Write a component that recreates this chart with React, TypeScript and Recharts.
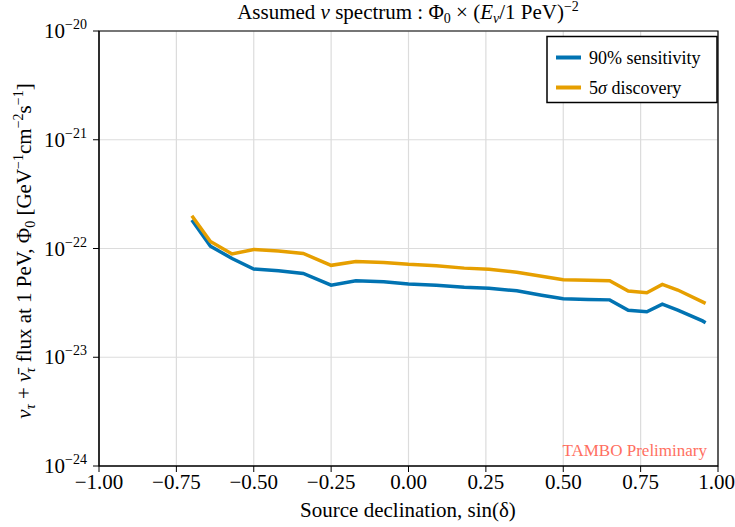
import React from 'react';
import {
  LineChart,
  Line,
  XAxis,
  YAxis,
  CartesianGrid,
  ReferenceArea
} from 'recharts';

const sinDec = [-0.70, -0.64, -0.57, -0.50, -0.42, -0.34, -0.25, -0.17, -0.08, 0.0, 0.09, 0.18, 0.26, 0.35, 0.43, 0.50, 0.58, 0.65, 0.71, 0.77, 0.82, 0.87, 0.95, 0.96];
const sensitivity = [1.83e-22, 1.05e-22, 8.1e-23, 6.47e-23, 6.25e-23, 5.9e-23, 4.6e-23, 5.05e-23, 4.95e-23, 4.72e-23, 4.6e-23, 4.4e-23, 4.32e-23, 4.08e-23, 3.72e-23, 3.45e-23, 3.4e-23, 3.37e-23, 2.71e-23, 2.62e-23, 3.08e-23, 2.71e-23, 2.16e-23, 2.08e-23];
const discovery = [2.0e-22, 1.16e-22, 8.9e-23, 9.8e-23, 9.5e-23, 9.0e-23, 7.0e-23, 7.6e-23, 7.45e-23, 7.15e-23, 6.95e-23, 6.6e-23, 6.45e-23, 6.05e-23, 5.55e-23, 5.15e-23, 5.1e-23, 5.05e-23, 4.06e-23, 3.92e-23, 4.68e-23, 4.15e-23, 3.23e-23, 3.13e-23];

const xTicks = [-1, -0.75, -0.5, -0.25, 0, 0.25, 0.5, 0.75, 1];
const yTicks = [1e-24, 1e-23, 1e-22, 1e-21, 1e-20];
const seriesNames = ['90% sensitivity', '5σ discovery'];

const BLUE = '#0173B2';
const ORANGE = '#E69F00';
const FONT = 'Liberation Serif, DejaVu Serif, serif';

const data = sinDec.map((x, i) => ({ x, sens: sensitivity[i], disc: discovery[i] }));

const fmtX = (v: number) => (v < 0 ? '\u2212' : '') + Math.abs(v).toFixed(2);

const YTick = (props: any) => {
  const { x, y, payload } = props;
  const exp = Math.round(Math.log10(payload.value));
  return (
    <text x={x - 4} y={y + 7} textAnchor="end" fontFamily={FONT} fontSize={21} fill="#000">
      10
      <tspan dy={-9} fontSize={14}>{'\u2212' + Math.abs(exp)}</tspan>
    </text>
  );
};

export default function App() {
  return (
    <div style={{ position: 'absolute', left: 0, top: 0, width: 735, height: 527, background: '#fff' }}>
      <LineChart
        width={735}
        height={527}
        data={data}
        margin={{ top: 31, right: 17, bottom: 30, left: 39 }}
      >
        <CartesianGrid stroke="#dcdcdc" strokeWidth={1.2} />
        <XAxis
          dataKey="x"
          type="number"
          domain={[-1, 1]}
          ticks={xTicks}
          tickFormatter={fmtX}
          height={31}
          tickSize={6}
          axisLine={{ stroke: '#000' }}
          tickLine={{ stroke: '#000' }}
          tick={{ fill: '#000', fontFamily: FONT, fontSize: 21 }}
        />
        <YAxis
          scale="log"
          type="number"
          domain={[1e-24, 1e-20]}
          ticks={yTicks}
          allowDataOverflow
          width={60}
          tickSize={6}
          axisLine={{ stroke: '#000' }}
          tickLine={{ stroke: '#000' }}
          tick={<YTick />}
        />
        <ReferenceArea x1={-1} x2={1} y1={1e-24} y2={1e-20} fill="none" stroke="#000" strokeWidth={1.2} ifOverflow="visible" />
        <Line type="linear" dataKey="sens" name={seriesNames[0]} stroke={BLUE} strokeWidth={3.5} dot={false} isAnimationActive={false} />
        <Line type="linear" dataKey="disc" name={seriesNames[1]} stroke={ORANGE} strokeWidth={3.5} dot={false} isAnimationActive={false} />

        {/* legend box */}
        <rect x={547} y={36.5} width={170} height={66} fill="#fff" stroke="#000" strokeWidth={1.5} />
        <line x1={556} x2={581} y1={57.5} y2={57.5} stroke={BLUE} strokeWidth={4} />
        <text x={589} y={63.5} fontFamily={FONT} fontSize={18} fill="#000">{seriesNames[0]}</text>
        <line x1={556} x2={581} y1={87.5} y2={87.5} stroke={ORANGE} strokeWidth={4} />
        <text x={589} y={93.5} fontFamily={FONT} fontSize={18} fill="#000">
          5<tspan fontStyle="italic">σ</tspan> discovery
        </text>

        <text x={408} y={19} textAnchor="middle" fontFamily={FONT} fontSize={21} fill="#000">
          Assumed <tspan fontStyle="italic">ν</tspan> spectrum :  Φ
          <tspan dy={4} fontSize={14}>0</tspan>
          <tspan dy={-4}> × (</tspan>
          <tspan fontStyle="italic">E</tspan>
          <tspan dy={4} fontSize={14} fontStyle="italic">ν</tspan>
          <tspan dy={-4}>/1 PeV)</tspan>
          <tspan dy={-8} fontSize={14}>−2</tspan>
        </text>
        <text x={408} y={517} textAnchor="middle" fontFamily={FONT} fontSize={21} fill="#000">
          Source declination, sin(δ)
        </text>
        <text x={707} y={456} textAnchor="end" fontFamily={FONT} fontSize={17} fill="#FF6F61">
          TAMBO Preliminary
        </text>
        <text
          transform="translate(31,251) rotate(-90)"
          textAnchor="middle"
          fontFamily={FONT}
          fontSize={21}
          fill="#000"
        >
          <tspan fontStyle="italic">ν</tspan>
          <tspan dy={4} fontSize={14} fontStyle="italic">τ</tspan>
          <tspan dy={-4}> + </tspan>
          <tspan fontStyle="italic">ν̄</tspan>
          <tspan dy={4} fontSize={14} fontStyle="italic">τ</tspan>
          <tspan dy={-4}> flux at 1 PeV, Φ</tspan>
          <tspan dy={4} fontSize={14}>0</tspan>
          <tspan dy={-4}> [GeV</tspan>
          <tspan dy={-8} fontSize={14}>−1</tspan>
          <tspan dy={8}>cm</tspan>
          <tspan dy={-8} fontSize={14}>−2</tspan>
          <tspan dy={8}>s</tspan>
          <tspan dy={-8} fontSize={14}>−1</tspan>
          <tspan dy={8}>]</tspan>
        </text>
      </LineChart>
    </div>
  );
}
